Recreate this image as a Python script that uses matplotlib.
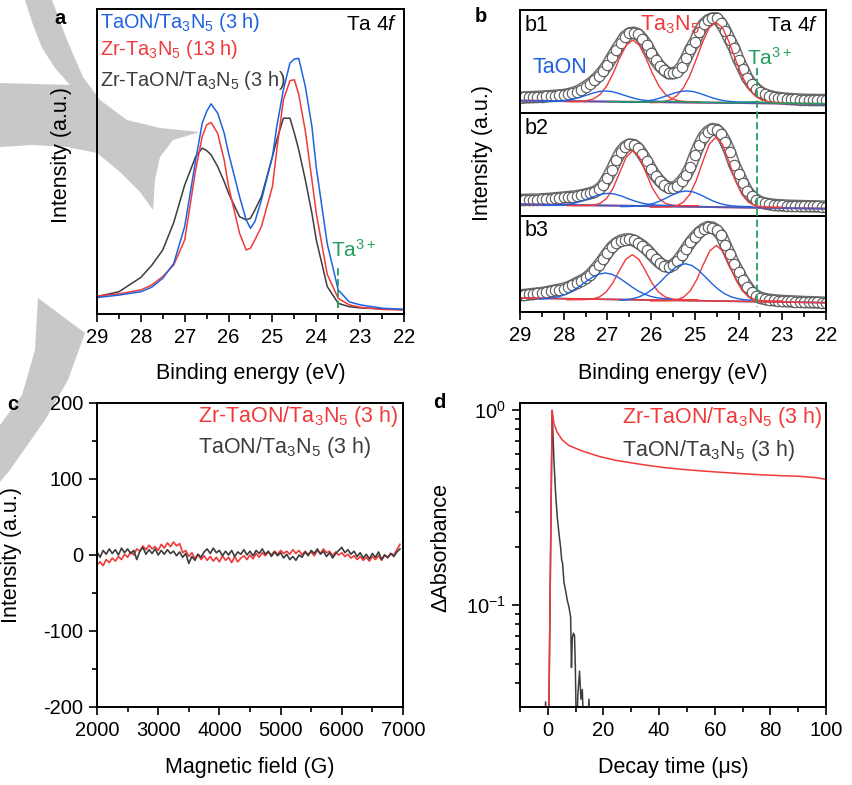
import numpy as np
import matplotlib
matplotlib.use("Agg")
import matplotlib.pyplot as plt
import matplotlib.transforms as mtransforms
from matplotlib.patches import Polygon
from matplotlib.lines import Line2D
from matplotlib.ticker import MultipleLocator, LogLocator, NullFormatter, NullLocator

plt.rcParams['font.family'] = ['Liberation Sans', 'DejaVu Sans']
plt.rcParams['mathtext.fontset'] = 'custom'
plt.rcParams['mathtext.rm'] = 'Liberation Sans'
plt.rcParams['mathtext.it'] = 'Liberation Sans:italic'
plt.rcParams['mathtext.default'] = 'regular'
plt.rcParams['axes.unicode_minus'] = False
plt.rcParams['axes.linewidth'] = 1.4

BLUE = '#1f62e0'
RED = '#f03a3a'
GRAY = '#3d3d3d'
GREEN = '#22a05a'

# ---- panel a: Ta 4f XPS (binding energy, eV) ----
E_a = [29, 28.5, 28, 27.75, 27.5, 27.25, 27, 26.75, 26.6, 26.5, 26.4, 26.25, 26.1, 26,
       25.75, 25.6, 25.5, 25.4, 25.25, 25, 24.9, 24.75, 24.6, 24.5, 24.4, 24.25, 24.1, 24,
       23.75, 23.5, 23.25, 23, 22.5, 22]
taon_a = [0.054, 0.062, 0.073, 0.088, 0.117, 0.166, 0.287, 0.505, 0.626, 0.664, 0.689, 0.659, 0.593, 0.527,
          0.385, 0.309, 0.281, 0.303, 0.374, 0.516, 0.615, 0.735, 0.823, 0.836, 0.838, 0.746, 0.615, 0.48,
          0.23, 0.079, 0.040, 0.030, 0.019, 0.015]
zr_ta3n5_a = [0.059, 0.066, 0.079, 0.095, 0.123, 0.161, 0.243, 0.473, 0.582, 0.620, 0.628, 0.593, 0.505, 0.418,
              0.265, 0.210, 0.216, 0.243, 0.287, 0.418, 0.538, 0.702, 0.765, 0.768, 0.72, 0.60, 0.44, 0.33,
              0.13, 0.051, 0.030, 0.022, 0.015, 0.013]
zr_taon_a = [0.057, 0.073, 0.12, 0.16, 0.21, 0.30, 0.423, 0.516, 0.544, 0.536, 0.522, 0.484, 0.434, 0.396,
             0.319, 0.309, 0.314, 0.341, 0.385, 0.516, 0.571, 0.642, 0.642, 0.593, 0.538, 0.44, 0.33, 0.243,
             0.09, 0.035, 0.024, 0.020, 0.017, 0.015]

# ---- panel b: fitted Ta 4f spectra ----
E_b = np.round(np.arange(29, 21.95, -0.1), 1)
b1_data = [0.149, 0.151, 0.153, 0.155, 0.157, 0.159, 0.162, 0.165, 0.168, 0.171,
           0.175, 0.183, 0.193, 0.207, 0.228, 0.256, 0.283, 0.318, 0.358, 0.408,
           0.466, 0.54, 0.61, 0.675, 0.741, 0.773, 0.780, 0.765, 0.72, 0.66,
           0.579, 0.51, 0.455, 0.415, 0.385, 0.385, 0.401, 0.45, 0.53, 0.62,
           0.693, 0.79, 0.86, 0.90, 0.919, 0.919, 0.871, 0.80, 0.71, 0.628,
           0.515, 0.43, 0.34, 0.28, 0.235, 0.201, 0.18, 0.165, 0.155, 0.148,
           0.142, 0.139, 0.136, 0.133, 0.131, 0.129, 0.128, 0.127, 0.127, 0.126, 0.126]
b2_data = [0.156, 0.157, 0.158, 0.159, 0.160, 0.162, 0.165, 0.168, 0.172, 0.176,
           0.180, 0.184, 0.188, 0.193, 0.200, 0.210, 0.220, 0.234, 0.258, 0.30,
           0.37, 0.45, 0.54, 0.62, 0.67, 0.695, 0.69, 0.66, 0.60, 0.53,
           0.455, 0.39, 0.34, 0.30, 0.275, 0.272, 0.295, 0.34, 0.395, 0.48,
           0.59, 0.69, 0.77, 0.82, 0.845, 0.838, 0.795, 0.72, 0.62, 0.50,
           0.41, 0.32, 0.24, 0.19, 0.158, 0.135, 0.122, 0.115, 0.109, 0.105,
           0.103, 0.101, 0.099, 0.098, 0.097, 0.096, 0.095, 0.094, 0.093, 0.092, 0.091]
b3_data = [0.174, 0.178, 0.183, 0.188, 0.193, 0.198, 0.206, 0.215, 0.224, 0.233,
           0.243, 0.258, 0.278, 0.302, 0.325, 0.350, 0.385, 0.435, 0.49, 0.55,
           0.615, 0.675, 0.715, 0.742, 0.755, 0.757, 0.745, 0.72, 0.69, 0.65,
           0.60, 0.553, 0.51, 0.48, 0.47, 0.49, 0.53, 0.59, 0.66, 0.725,
           0.781, 0.83, 0.865, 0.885, 0.88, 0.85, 0.80, 0.70, 0.60, 0.50,
           0.417, 0.33, 0.265, 0.208, 0.17, 0.148, 0.136, 0.128, 0.123, 0.119,
           0.115, 0.113, 0.111, 0.109, 0.107, 0.104, 0.103, 0.101, 0.100, 0.098, 0.097]

# fit components: peak centre (eV) and intensities sampled every 0.15 eV around it
OFFS = np.round(np.arange(-1.5, 1.51, 0.15), 2)
b_centres = {
    'b1': {'red1': 26.42, 'red2': 24.52, 'blue1': 27.05, 'blue2': 25.19},
    'b2': {'red1': 26.42, 'red2': 24.52, 'blue1': 26.98, 'blue2': 25.19},
    'b3': {'red1': 26.43, 'red2': 24.51, 'blue1': 27.05, 'blue2': 25.22},
}
b1_red1 = [0.110, 0.110, 0.112, 0.119, 0.137, 0.179, 0.260, 0.384, 0.533, 0.658, 0.708,
           0.658, 0.533, 0.384, 0.260, 0.179, 0.137, 0.119, 0.112, 0.110, 0.110]
b1_red2 = [0.101, 0.103, 0.109, 0.126, 0.165, 0.239, 0.358, 0.519, 0.691, 0.828, 0.880,
           0.828, 0.691, 0.519, 0.358, 0.239, 0.165, 0.126, 0.109, 0.103, 0.101]
b1_blue1 = [0.112, 0.113, 0.114, 0.117, 0.123, 0.133, 0.150, 0.170, 0.191, 0.208, 0.214,
            0.208, 0.191, 0.170, 0.150, 0.133, 0.123, 0.117, 0.114, 0.113, 0.112]
b1_blue2 = [0.105, 0.106, 0.107, 0.110, 0.117, 0.128, 0.146, 0.168, 0.191, 0.208, 0.215,
            0.208, 0.191, 0.168, 0.146, 0.128, 0.117, 0.110, 0.107, 0.106, 0.105]
b2_red1 = [0.100, 0.100, 0.100, 0.101, 0.105, 0.122, 0.170, 0.270, 0.422, 0.571, 0.635,
           0.571, 0.422, 0.270, 0.170, 0.122, 0.105, 0.101, 0.100, 0.100, 0.100]
b2_red2 = [0.086, 0.086, 0.087, 0.089, 0.100, 0.132, 0.207, 0.343, 0.527, 0.697, 0.766,
           0.697, 0.527, 0.343, 0.207, 0.132, 0.100, 0.089, 0.087, 0.086, 0.086]
b2_blue1 = [0.102, 0.103, 0.104, 0.108, 0.115, 0.127, 0.146, 0.169, 0.194, 0.213, 0.220,
            0.213, 0.194, 0.169, 0.146, 0.127, 0.115, 0.108, 0.104, 0.103, 0.102]
b2_blue2 = [0.091, 0.092, 0.094, 0.098, 0.107, 0.123, 0.147, 0.178, 0.209, 0.234, 0.243,
            0.234, 0.209, 0.178, 0.147, 0.123, 0.107, 0.098, 0.094, 0.092, 0.091]
b3_red1 = [0.128, 0.128, 0.128, 0.130, 0.137, 0.157, 0.208, 0.301, 0.429, 0.548, 0.597,
           0.548, 0.429, 0.301, 0.208, 0.157, 0.137, 0.130, 0.128, 0.128, 0.128]
b3_red2 = [0.115, 0.115, 0.116, 0.118, 0.127, 0.154, 0.218, 0.334, 0.491, 0.635, 0.694,
           0.635, 0.491, 0.334, 0.218, 0.154, 0.127, 0.118, 0.116, 0.115, 0.115]
b3_blue1 = [0.135, 0.139, 0.147, 0.161, 0.185, 0.220, 0.264, 0.314, 0.360, 0.394, 0.406,
            0.394, 0.360, 0.314, 0.264, 0.220, 0.185, 0.161, 0.147, 0.139, 0.135]
b3_blue2 = [0.123, 0.128, 0.139, 0.158, 0.190, 0.238, 0.300, 0.370, 0.437, 0.485, 0.503,
            0.485, 0.437, 0.370, 0.300, 0.238, 0.190, 0.158, 0.139, 0.128, 0.123]
E_base = [29, 22]
b1_base = [0.120, 0.088]
b2_base = [0.114, 0.071]
b3_base = [0.146, 0.097]
E_green = [27.0, 26.0, 25.5, 25.0, 24.0, 23.6, 23.2, 22.0]
b1_green = [0.111, 0.107, 0.113, 0.105, 0.100, 0.110, 0.096, 0.090]

# ---- panel c: EPR ----
B_c = np.arange(2000, 6951, 50)
epr_zr = [-13, -9, -14, -6, -10, -4, -8, -2, -6, 1, -3, 4, 0, 8, 5, 12, 7, 13, 8, 11,
          6, 14, 9, 16, 11, 17, 12, 15, 3, 6, -2, 3, -5, 1, -6, -1, -7, -2, -8, -3,
          -9, -1, -7, -3, -10, -2, -9, -4, -1, -6, 0, -5, 2, -3, 3, -1, 4, 0, 5, 1,
          6, 2, 5, 1, 7, 2, 6, 0, 5, 1, 4, -1, 6, 2, 8, 3, 5, -1, 4, 0,
          3, -2, 1, -4, -1, -6, -2, -7, -3, -8, -2, -6, -1, -7, 0, -4, 2, 0, 7, 14]
epr_taon = [4, -3, 6, 1, 8, 2, 7, 0, 9, 3, 8, 2, 6, -6, 5, 10, 1, 7, 2, 8,
            0, 6, 1, 7, 2, 5, -1, 4, -3, 2, -11, -2, -7, 1, -3, 4, 8, 2, 9, 3,
            6, -1, 5, 0, 6, -2, 4, 1, 7, 0, 5, -1, 6, 2, 8, 1, 5, -2, 4, -1,
            3, -4, 1, -6, -2, -7, 0, -3, 4, -1, 6, 2, 8, 1, 5, -2, 3, -4, 2, 6,
            10, 3, 7, 1, 5, -2, 3, -4, 1, -5, 2, -3, 4, -6, 0, -3, 2, -2, 4, 8]

# ---- panel d: transient absorption decay ----
t_zr = [0.37, 1.55, 2.2, 3.3, 5.1, 7.5, 12.3, 18.3, 24.3, 30.3, 36.2, 42.2, 48.2, 54.2,
        60.2, 66.1, 72.1, 78.1, 84.1, 90.1, 96, 100]
abs_zr = [0.028, 1.0, 0.854, 0.774, 0.707, 0.661, 0.619, 0.581, 0.554, 0.537, 0.521, 0.508,
          0.498, 0.490, 0.483, 0.477, 0.471, 0.466, 0.462, 0.459, 0.452, 0.443]
t_taon = [-1.2, -0.8, -0.5, 0.37, 1.55, 2.2, 2.8, 3.4, 4.0, 4.6, 5.0, 5.3, 5.8, 6.4, 7.0,
          7.6, 8.2, 8.5, 8.8, 9.2, 9.6, 9.9, 10.3, 10.8, 11.4, 11.9, 12.4, 13.0, 14.0,
          14.8, 15.3]
abs_taon = [0.02, 0.032, 0.02, 0.028, 1.0, 0.554, 0.375, 0.283, 0.234, 0.198, 0.17, 0.165,
            0.131, 0.119, 0.106, 0.098, 0.087, 0.048, 0.068, 0.072, 0.070, 0.048, 0.02,
            0.035, 0.046, 0.033, 0.037, 0.02, 0.02, 0.033, 0.02]

W, H = 853, 785
fig = plt.figure(figsize=(W / 100, H / 100), dpi=100)


def fx(x):
    return x / W


def fy(y):
    return 1 - y / H


def box(left, top, right, bottom):
    return [fx(left), fy(bottom), (right - left) / W, (bottom - top) / H]


# light grey watermark behind everything
wm1 = [(25, 0), (52, 0), (67, 40), (83, 77), (100, 100), (127, 120), (160, 128), (200, 132),
       (173, 140), (160, 157), (155, 180), (153, 210), (140, 192), (120, 172), (97, 153),
       (67, 147), (33, 145), (0, 147), (0, 83), (70, 85), (55, 68), (42, 48), (33, 25)]
wm2 = [(38, 298), (85, 333), (68, 380), (45, 420), (10, 470), (0, 482), (0, 425),
       (22, 395), (35, 350)]
for shape in (wm1, wm2):
    fig.patches.append(Polygon([(fx(x), fy(y)) for x, y in shape], closed=True,
                               transform=fig.transFigure, facecolor='#c8c8c8',
                               edgecolor='none', zorder=-5))


def style(ax):
    ax.set_facecolor('none')
    ax.tick_params(which='major', direction='out', length=6, width=1.2, labelsize=14.5, pad=4,
                   top=False, right=False)
    ax.tick_params(which='minor', direction='out', length=3.5, width=1.2, top=False, right=False)


# panel a
ax_a = fig.add_axes(box(97, 9, 404, 314))
style(ax_a)
ax_a.plot(E_a, zr_taon_a, color=GRAY, lw=1.1)
ax_a.plot(E_a, zr_ta3n5_a, color=RED, lw=1.1)
ax_a.plot(E_a, taon_a, color=BLUE, lw=1.1)
ax_a.plot([23.5, 23.5], [0.019, 0.161], color=GREEN, lw=1.3, ls=(0, (4, 2)))
ax_a.text(23.66, 0.21, '$Ta^{3+}$', color=GREEN, fontsize=15, ha='left', va='center')
ax_a.set_xlim(29, 22)
ax_a.set_ylim(0, 1)
ax_a.xaxis.set_major_locator(MultipleLocator(1))
ax_a.xaxis.set_minor_locator(MultipleLocator(0.5))
ax_a.yaxis.set_major_locator(NullLocator())
ax_a.text(0.01, 0.957, 'TaON/Ta$_3$N$_5$ (3 h)', color=BLUE, fontsize=14.3,
          transform=ax_a.transAxes, va='center')
ax_a.text(0.01, 0.866, 'Zr-Ta$_3$N$_5$ (13 h)', color=RED, fontsize=14.3,
          transform=ax_a.transAxes, va='center')
ax_a.text(0.01, 0.767, 'Zr-TaON/Ta$_3$N$_5$ (3 h)', color=GRAY, fontsize=14.3,
          transform=ax_a.transAxes, va='center')
ax_a.text(0.977, 0.948, 'Ta 4$\\mathit{f}$', fontsize=15, transform=ax_a.transAxes,
          ha='right', va='center')

# panel b
b_boxes = {'b1': box(520, 10, 826, 113), 'b2': box(520, 113, 826, 216), 'b3': box(520, 216, 826, 312)}
b_data = {'b1': b1_data, 'b2': b2_data, 'b3': b3_data}
b_comps = {
    'b1': {'red1': b1_red1, 'red2': b1_red2, 'blue1': b1_blue1, 'blue2': b1_blue2},
    'b2': {'red1': b2_red1, 'red2': b2_red2, 'blue1': b2_blue1, 'blue2': b2_blue2},
    'b3': {'red1': b3_red1, 'red2': b3_red2, 'blue1': b3_blue1, 'blue2': b3_blue2},
}
b_base = {'b1': b1_base, 'b2': b2_base, 'b3': b3_base}
b_axes = {}
for name in ('b1', 'b2', 'b3'):
    ax = fig.add_axes(b_boxes[name])
    style(ax)
    b_axes[name] = ax
    # measured points: dense open circles forming a band
    ax.plot(E_b, b_data[name], color='#6e6e6e', lw=9, solid_capstyle='round')
    ax.plot(E_b, b_data[name], color='white', lw=6.8, solid_capstyle='round')
    ax.plot(E_b, b_data[name], ls='none', marker='o', ms=7.5, mfc='white', mec='#5a5a5a', mew=0.8)
    if name == 'b3':
        ax.plot(E_base, b_base[name], color=BLUE, lw=1.2)
        ax.plot(E_base, b_base[name], color=RED, lw=1.2)
    else:
        ax.plot(E_base, b_base[name], color=RED, lw=1.4)
        ax.plot(E_base, b_base[name], color=BLUE, lw=1.4, alpha=0.75)
    for comp, vals in b_comps[name].items():
        col = RED if comp.startswith('red') else BLUE
        ax.plot(b_centres[name][comp] + OFFS, vals, color=col, lw=1.0)
    if name == 'b1':
        ax.plot(E_green, b1_green, color=GREEN, lw=1.0)
    ax.set_xlim(29, 22)
    ax.set_ylim(0, 1)
    ax.yaxis.set_major_locator(NullLocator())
    ax.text(0.016, 0.854, name, fontsize=15.5, transform=ax.transAxes, va='center')
    if name == 'b3':
        ax.xaxis.set_major_locator(MultipleLocator(1))
        ax.xaxis.set_minor_locator(MultipleLocator(0.5))
    else:
        ax.xaxis.set_major_locator(NullLocator())

ax_b1 = b_axes['b1']
ax_b1.text(0.974, 0.854, 'Ta 4$\\mathit{f}$', fontsize=15, transform=ax_b1.transAxes,
           ha='right', va='center')
ax_b1.text(0.392, 0.86, 'Ta$_3$N$_5$', color=RED, fontsize=15.5, transform=ax_b1.transAxes,
           va='center', zorder=5)
ax_b1.text(0.042, 0.437, 'TaON', color=BLUE, fontsize=15.5, transform=ax_b1.transAxes,
           va='center')
ax_b1.text(0.742, 0.534, '$Ta^{3+}$', color=GREEN, fontsize=15, transform=ax_b1.transAxes,
           va='center')
blend = mtransforms.blended_transform_factory(b_axes['b3'].transData, fig.transFigure)
fig.add_artist(Line2D([23.585, 23.585], [fy(68), fy(307)], transform=blend, color=GREEN,
                      lw=1.3, ls=(0, (4, 2)), zorder=5))

# panel c
ax_c = fig.add_axes(box(97, 403, 403, 707))
style(ax_c)
ax_c.plot(B_c, epr_zr, color=RED, lw=1.2)
ax_c.plot(B_c, epr_taon, color=GRAY, lw=1.2)
ax_c.set_xlim(2000, 7000)
ax_c.set_ylim(-200, 200)
ax_c.xaxis.set_major_locator(MultipleLocator(1000))
ax_c.xaxis.set_minor_locator(MultipleLocator(500))
ax_c.yaxis.set_major_locator(MultipleLocator(100))
ax_c.yaxis.set_minor_locator(MultipleLocator(50))
ax_c.text(0.33, 0.954, 'Zr-TaON/Ta$_3$N$_5$ (3 h)', color=RED, fontsize=15.5,
          transform=ax_c.transAxes, va='center')
ax_c.text(0.33, 0.852, 'TaON/Ta$_3$N$_5$ (3 h)', color=GRAY, fontsize=15.5,
          transform=ax_c.transAxes, va='center')

# panel d
ax_d = fig.add_axes(box(520, 403, 826, 707))
style(ax_d)
ax_d.plot(t_taon, abs_taon, color=GRAY, lw=1.1)
ax_d.plot(t_zr, abs_zr, color=RED, lw=1.1)
ax_d.set_yscale('log')
ax_d.set_xlim(-10, 100)
ax_d.set_ylim(0.0301, 1.09)
ax_d.xaxis.set_major_locator(MultipleLocator(20))
ax_d.xaxis.set_minor_locator(MultipleLocator(10))
ax_d.yaxis.set_major_locator(LogLocator(base=10))
ax_d.yaxis.set_minor_locator(LogLocator(base=10, subs=np.arange(2, 10) * 0.1))
ax_d.yaxis.set_minor_formatter(NullFormatter())
ax_d.text(0.333, 0.951, 'Zr-TaON/Ta$_3$N$_5$ (3 h)', color=RED, fontsize=15.5,
          transform=ax_d.transAxes, va='center')
ax_d.text(0.333, 0.845, 'TaON/Ta$_3$N$_5$ (3 h)', color=GRAY, fontsize=15.5,
          transform=ax_d.transAxes, va='center')

# axis titles and panel letters
fig.text(fx(62), fy(155), 'Intensity (a.u.)', rotation=90, ha='center', va='center', fontsize=15.5)
fig.text(fx(483), fy(153), 'Intensity (a.u.)', rotation=90, ha='center', va='center', fontsize=15.5)
fig.text(fx(12), fy(555), 'Intensity (a.u.)', rotation=90, ha='center', va='center', fontsize=15.5)
fig.text(fx(441), fy(548), '\u0394Absorbance', rotation=90, ha='center', va='center', fontsize=15.5)
fig.text(fx(251), fy(373), 'Binding energy (eV)', ha='center', va='center', fontsize=15.5)
fig.text(fx(673), fy(373), 'Binding energy (eV)', ha='center', va='center', fontsize=15.5)
fig.text(fx(250), fy(768), 'Magnetic field (G)', ha='center', va='center', fontsize=15.5)
fig.text(fx(673), fy(768), 'Decay time (\u03bcs)', ha='center', va='center', fontsize=15.5)
for letter, (x, y) in {'a': (60, 18), 'b': (481, 17), 'c': (12.5, 404), 'd': (439, 402)}.items():
    fig.text(fx(x), fy(y), letter, ha='center', va='center', fontsize=14.5, fontweight='bold')

fig.savefig('out.png', dpi=100)
